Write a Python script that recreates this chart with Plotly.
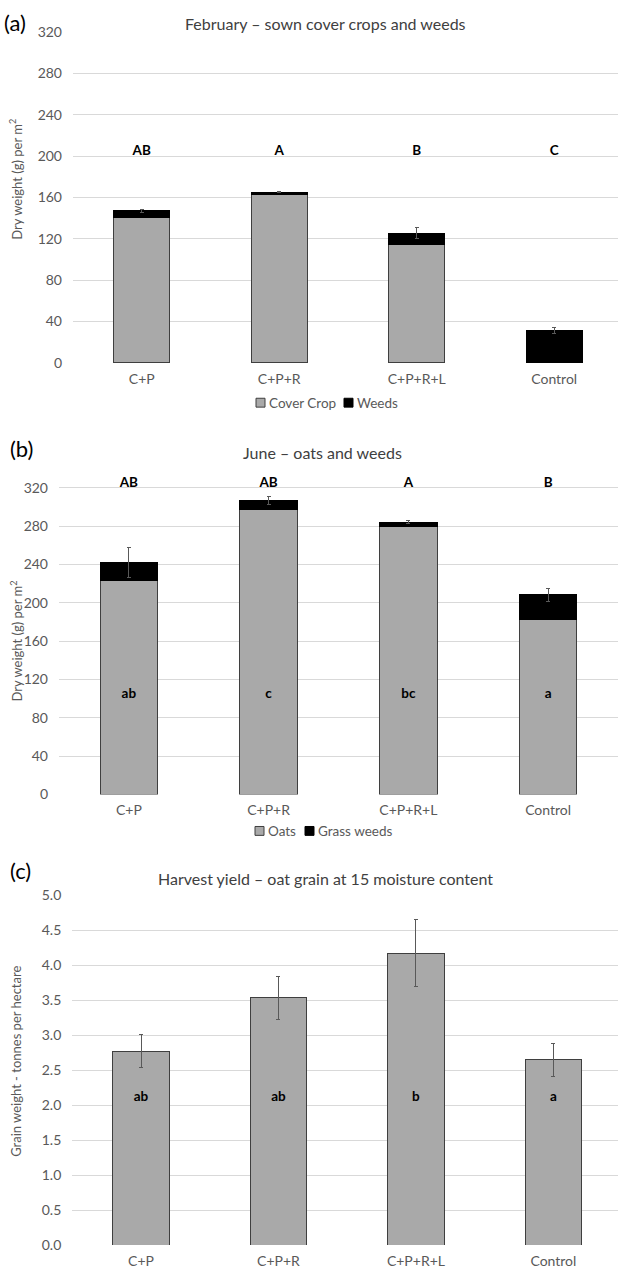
import plotly.graph_objects as go

categories = ["C+P", "C+P+R", "C+P+R+L", "Control"]

# Panel (a) February
feb_cover = [141, 163, 114.5, 0]
feb_weeds = [6, 2, 11, 31]
feb_err = [1.5, 0.6, 5.5, 3]
feb_letters = ["AB", "A", "B", "C"]
feb_letter_y = 204

# Panel (b) June
jun_oats = [223, 297, 280, 183]
jun_weeds = [19, 10, 4.3, 25.4]
jun_err = [16, 4, 1.5, 7]
jun_letters_top = ["AB", "AB", "A", "B"]
jun_letters_in = ["ab", "c", "bc", "a"]
jun_top_y = 324.5
jun_in_y = 103.7

# Panel (c) Harvest
har_yield = [2.77, 3.53, 4.17, 2.65]
har_err = [0.24, 0.31, 0.48, 0.235]
har_letters = ["ab", "ab", "b", "a"]
har_letter_y = 2.11

W, H = 618, 1279
FONT = "Lato"
GREY = "#a9a9a9"
EDGE = "#3f3f3f"
TICK = "#595959"
GRID = "#d9d9d9"


def px_x(p):
    return p / W


def px_y(p):
    return 1 - p / H


fig = go.Figure()

err_style = dict(type="data", visible=True, color="#595959", thickness=1, width=2)

# (a)
fig.add_trace(go.Bar(x=categories, y=feb_cover, name="Cover Crop", marker=dict(color=GREY, line=dict(color=EDGE, width=1)),
                     width=0.41, xaxis="x", yaxis="y", showlegend=False))
fig.add_trace(go.Bar(x=categories, y=feb_weeds, name="Weeds", marker=dict(color="#000000", line=dict(color="#000000", width=1)),
                     width=0.41, xaxis="x", yaxis="y", showlegend=False,
                     error_y=dict(array=feb_err, **err_style)))
# (b)
fig.add_trace(go.Bar(x=categories, y=jun_oats, name="Oats", marker=dict(color=GREY, line=dict(color=EDGE, width=1)),
                     width=0.41, xaxis="x2", yaxis="y2", showlegend=False))
fig.add_trace(go.Bar(x=categories, y=jun_weeds, name="Grass weeds", marker=dict(color="#000000", line=dict(color="#000000", width=1)),
                     width=0.41, xaxis="x2", yaxis="y2", showlegend=False,
                     error_y=dict(array=jun_err, **err_style)))
# (c)
fig.add_trace(go.Bar(x=categories, y=har_yield, name="Yield", marker=dict(color=GREY, line=dict(color=EDGE, width=1)),
                     width=0.41, xaxis="x3", yaxis="y3", showlegend=False,
                     error_y=dict(array=har_err, type="data", visible=True, color="#595959", thickness=1, width=2)))

# letters as text traces
letter_font = dict(family=FONT, size=13.5, color="#000000")
fig.add_trace(go.Scatter(x=categories, y=[feb_letter_y] * 4, text=["<b>%s</b>" % t for t in feb_letters], mode="text",
                         textfont=letter_font, xaxis="x", yaxis="y", showlegend=False, cliponaxis=False))
fig.add_trace(go.Scatter(x=categories, y=[jun_top_y] * 4, text=["<b>%s</b>" % t for t in jun_letters_top], mode="text",
                         textfont=letter_font, xaxis="x2", yaxis="y2", showlegend=False, cliponaxis=False))
fig.add_trace(go.Scatter(x=categories, y=[jun_in_y] * 4, text=["<b>%s</b>" % t for t in jun_letters_in], mode="text",
                         textfont=letter_font, xaxis="x2", yaxis="y2", showlegend=False, cliponaxis=False))
fig.add_trace(go.Scatter(x=categories, y=[har_letter_y] * 4, text=["<b>%s</b>" % t for t in har_letters], mode="text",
                         textfont=letter_font, xaxis="x3", yaxis="y3", showlegend=False, cliponaxis=False))

tickfont = dict(family=FONT, size=14, color=TICK)
xcommon = dict(type="category", showgrid=False, showline=False, zeroline=False, ticks="",
               tickfont=dict(family=FONT, size=14, color=TICK), ticklabelstandoff=6, fixedrange=True)
ycommon = dict(showgrid=True, gridcolor=GRID, gridwidth=1, zeroline=False, showline=False, ticks="",
               tickfont=tickfont, ticklabelstandoff=10)

fig.update_layout(
    width=W, height=H,
    margin=dict(l=0, r=0, t=0, b=0),
    paper_bgcolor="white", plot_bgcolor="white",
    barmode="stack",
    showlegend=False,
    font=dict(family=FONT, color=TICK),
    xaxis=dict(domain=[px_x(73), 1], range=[-0.5, 3.464], anchor="y", **xcommon),
    yaxis=dict(domain=[px_y(358.7), px_y(23.3)], range=[0, 320], tickvals=list(range(0, 321, 40)), anchor="x", **ycommon),
    xaxis2=dict(domain=[px_x(59), 1], range=[-0.5, 3.5], anchor="y2", **xcommon),
    yaxis2=dict(domain=[px_y(796), px_y(475.6)], range=[0, 330], tickvals=list(range(0, 321, 40)), anchor="x2", **ycommon),
    xaxis3=dict(domain=[px_x(72.3), 1], range=[-0.5, 3.47], anchor="y3", **xcommon),
    yaxis3=dict(domain=[px_y(1252.7), px_y(898)], range=[0, 5], tickvals=[i / 2 for i in range(11)],
                tickformat=".1f", anchor="x3", **ycommon),
)

ann = []
shapes = []
titles = [("February – sown cover crops and weeds", 326, 15),
          ("June – oats and weeds", 322, 449),
          ("Harvest yield – oat grain at 15 moisture content", 326, 881)]
for t, x, y in titles:
    ann.append(dict(text=t, x=px_x(x), y=px_y(y), xref="paper", yref="paper", showarrow=False,
                    xanchor="center", yanchor="middle", font=dict(family=FONT, size=16, color="#404040")))
panels = [("(a)", 2, 14), ("(b)", 8, 445), ("(c)", 8, 873)]
for t, x, y in panels:
    ann.append(dict(text=t, x=px_x(x), y=px_y(y), xref="paper", yref="paper", showarrow=False,
                    xanchor="left", yanchor="middle", font=dict(family=FONT, size=22, color="#000000")))
ytitles = [("Dry weight (g) per m<sup>2</sup>", 173), ("Dry weight (g) per m<sup>2</sup>", 641),
           ("Grain weight - tonnes per hectare", 1067)]
for t, y in ytitles:
    ann.append(dict(text=t, x=px_x(16), y=px_y(y), xref="paper", yref="paper", showarrow=False, textangle=-90,
                    xanchor="center", yanchor="middle", font=dict(family=FONT, size=13, color=TICK)))

# manual legends (small squares + labels)
legend_items = [
    ("Cover Crop", GREY, EDGE, 256, 399),
    ("Weeds", "#000000", "#000000", 344, 399),
    ("Oats", GREY, EDGE, 255, 833),
    ("Grass weeds", "#000000", "#000000", 305, 833),
]
for name, fill, edge, x0, yc in legend_items:
    shapes.append(dict(type="rect", xref="paper", yref="paper", x0=px_x(x0), x1=px_x(x0 + 9),
                       y0=px_y(yc + 4.5), y1=px_y(yc - 4.5), fillcolor=fill, line=dict(color=edge, width=1)))
    ann.append(dict(text=name, x=px_x(x0 + 11), y=px_y(yc), xref="paper", yref="paper", showarrow=False,
                    xanchor="left", yanchor="middle", font=dict(family=FONT, size=13.5, color=TICK)))

fig.update_layout(annotations=ann, shapes=shapes)

fig.write_html("out.html", config={"displayModeBar": False},
               post_script="document.body.style.margin='0';document.body.style.overflow='hidden';")
